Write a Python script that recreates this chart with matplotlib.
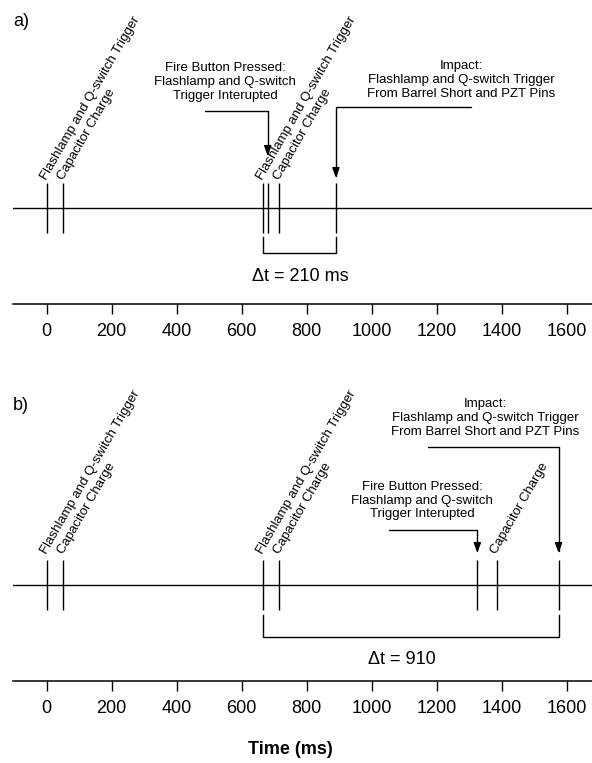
import matplotlib
matplotlib.use('Agg')
import matplotlib.pyplot as plt

plt.rcParams['font.family'] = ['Liberation Sans', 'DejaVu Sans']

# Datos (tiempos en ms)
tick_ms = [0, 200, 400, 600, 800, 1000, 1200, 1400, 1600]

# panel a)
eventos_a = [0, 50, 665, 680, 715, 890]
etiq_t_a = [0, 50, 665, 715]
etiq_txt_a = ['Flashlamp and Q-switch Trigger', 'Capacitor Charge',
              'Flashlamp and Q-switch Trigger', 'Capacitor Charge']
fire_a = 680
impact_a = 890
delta_a = [665, 890]
delta_txt_a = '\u0394t = 210 ms'

# panel b)
eventos_b = [0, 50, 665, 715, 1325, 1385, 1575]
etiq_t_b = [0, 50, 665, 715, 1385]
etiq_txt_b = ['Flashlamp and Q-switch Trigger', 'Capacitor Charge',
              'Flashlamp and Q-switch Trigger', 'Capacitor Charge',
              'Capacitor Charge']
fire_b = 1325
impact_b = 1575
delta_b = [665, 1575]
delta_txt_b = '\u0394t = 910'

fire_txt = 'Fire Button Pressed:\nFlashlamp and Q-switch\nTrigger Interupted'
impact_txt = 'Impact:\nFlashlamp and Q-switch Trigger\nFrom Barrel Short and PZT Pins'

# Configuracion de grafico (pixeles)
W, H = 592, 763
px_ms = 0.325      # px por ms
x0_px = 46.7       # posicion de t=0
left_px = 13
xlim = ((left_px - x0_px) / px_ms, (W - x0_px) / px_ms)
fs_note = 9.5
fs_big = 13

fig = plt.figure(figsize=(W / 100, H / 100), dpi=100, facecolor='w')


def panel(top_px, axis_px, line_px, letter, letter_px, eventos, etiq_t, etiq_txt,
          fire, fire_pos, fire_arrow, impact, impact_pos, impact_arrow,
          delta, delta_txt, delta_pos, lab_y, brk):
    ax = fig.add_axes([left_px / W, 1 - axis_px / H, 1 - left_px / W, (axis_px - top_px) / H])
    ax.set_xlim(xlim)
    ax.set_ylim(line_px - axis_px, line_px - top_px)
    for s in ['top', 'left', 'right']:
        ax.spines[s].set_visible(False)
    ax.spines['bottom'].set_linewidth(1.1)
    ax.set_yticks([])
    ax.set_xticks(tick_ms)
    ax.tick_params(axis='x', direction='out', length=7, width=1, pad=7, labelsize=fs_big)

    ax.axhline(0, color='k', lw=1.0)
    ax.vlines(eventos, -25, 25, color='k', lw=1.0)

    for t, txt in zip(etiq_t, etiq_txt):
        ax.text(t, lab_y, txt, rotation=60, rotation_mode='anchor', ha='left',
                va='baseline', fontsize=fs_note)

    ax.text(fire_pos[0], fire_pos[1], fire_txt, ha='center', va='center',
            fontsize=fs_note, multialignment='center')
    ax.annotate('', xy=(fire, fire_arrow[1]), xytext=(fire_arrow[0], fire_arrow[2]),
                arrowprops=dict(arrowstyle='-|>,head_length=0.6,head_width=0.22',
                                connectionstyle='angle,angleA=0,angleB=90,rad=0',
                                color='k', lw=1.0, shrinkA=0, shrinkB=0, mutation_scale=10))

    ax.text(impact_pos[0], impact_pos[1], impact_txt, ha='center', va='center',
            fontsize=fs_note, multialignment='center')
    ax.annotate('', xy=(impact, impact_arrow[1]), xytext=(impact_arrow[0], impact_arrow[2]),
                arrowprops=dict(arrowstyle='-|>,head_length=0.6,head_width=0.22',
                                connectionstyle='angle,angleA=0,angleB=90,rad=0',
                                color='k', lw=1.0, shrinkA=0, shrinkB=0, mutation_scale=10))

    ax.plot([delta[0], delta[0], delta[1], delta[1]], [brk[0], brk[1], brk[1], brk[0]],
            color='k', lw=1.0)
    ax.text(delta_pos[0], delta_pos[1], delta_txt, ha='center', va='center', fontsize=fs_big)

    fig.text(letter_px[0] / W, 1 - letter_px[1] / H, letter, ha='left', va='center',
             fontsize=fs_big)
    return ax


ax_a = panel(0, 303.5, 208, 'a)', (13, 21.5), eventos_a, etiq_t_a, etiq_txt_a,
             fire_a, (549, 126), (487, 52, 97),
             impact_a, (1275, 128), (1306, 30, 101),
             delta_a, delta_txt_a, (781, -68.7), 28, (-29, -45))

ax_b = panel(380, 681, 585, 'b)', (13, 405), eventos_b, etiq_t_b, etiq_txt_b,
             fire_b, (1155, 84.3), (1053, 32, 55),
             impact_b, (1349, 167), (1173, 32, 138),
             delta_b, delta_txt_b, (1092, -74), 31, (-30, -52))

ax_b.set_xlabel('Time (ms)', fontsize=fs_big, fontweight='bold')
ax_b.xaxis.set_label_coords((290.5 - left_px) / (W - left_px), -0.2)

fig.savefig('out.png', dpi=100, facecolor='w')
